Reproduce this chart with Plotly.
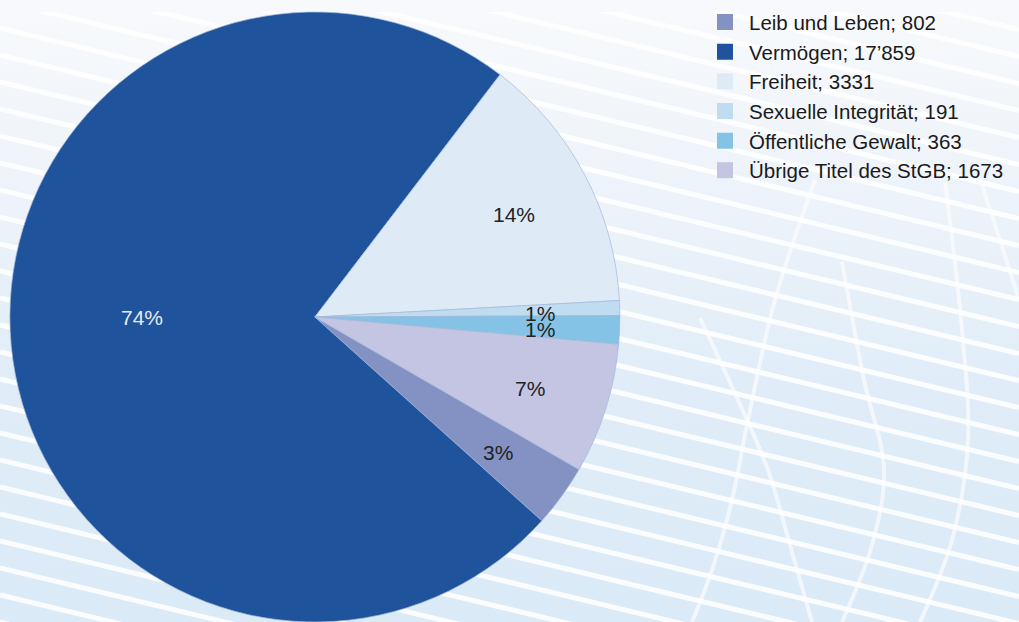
import numpy as np
import plotly.graph_objects as go

# Straftaten nach Titel des StGB
categories = [
    "Leib und Leben",
    "Vermögen",
    "Freiheit",
    "Sexuelle Integrität",
    "Öffentliche Gewalt",
    "Übrige Titel des StGB",
]
counts = [802, 17859, 3331, 191, 363, 1673]
slice_colors = ["#8491c3", "#1f539c", "#deebf7", "#bfdcf0", "#84c2e6", "#c3c5e2"]

W, H = 1019, 622
TOP = 12
PIE_X = (0.0, 0.618)
ROTATION = 120
FONT = "Liberation Sans, Arial, Helvetica, sans-serif"


def swiss(n):
    """Swiss thousands separator, only for five-digit numbers and up."""
    return f"{n:,}".replace(",", "\u2019") if n >= 10000 else str(n)


def is_dark(hex_color):
    r, g, b = (int(hex_color[i:i + 2], 16) for i in (1, 3, 5))
    return 0.299 * r + 0.587 * g + 0.114 * b < 128


fig = go.Figure()
plot_h = H - TOP

# soft vertical background gradient
fig.add_trace(go.Scatter(
    x=[0, W, W, 0, 0], y=[0, 0, plot_h, plot_h, 0],
    mode="lines", line=dict(width=0), fill="toself",
    fillgradient=dict(type="vertical", colorscale=[
        [0.0, "#dbeaf7"], [0.4, "#e0edf8"], [0.7, "#edf3fa"], [1.0, "#f7f9fc"],
    ]),
    hoverinfo="skip", showlegend=False,
))

# diagonal white stripes of the backdrop
SLOPE, GAP = 0.24, 27
sx, sy = [], []
for b in np.arange(0, plot_h + SLOPE * W + GAP, GAP):
    sx += [0, W, None]
    sy += [b, b - SLOPE * W, None]
fig.add_trace(go.Scatter(
    x=sx, y=sy, mode="lines",
    line=dict(color="rgba(255,255,255,0.85)", width=5),
    hoverinfo="skip", showlegend=False,
))

# faint curved net lines in the lower right of the backdrop (pixel coords from top)
net_curves = [
    [(815, 180), (775, 300), (748, 420), (732, 500), (712, 570), (692, 622)],
    [(700, 318), (738, 400), (768, 470), (790, 545), (812, 622)],
    [(842, 262), (864, 380), (884, 470), (872, 545), (842, 622)],
    [(945, 182), (962, 330), (968, 440), (952, 540), (920, 622)],
    [(982, 185), (1000, 240), (1019, 300)],
]
nx, ny = [], []
for curve in net_curves:
    nx += [p[0] for p in curve] + [None]
    ny += [H - p[1] for p in curve] + [None]
fig.add_trace(go.Scatter(
    x=nx, y=ny, mode="lines",
    line=dict(color="rgba(255,255,255,0.6)", width=4, shape="spline"),
    hoverinfo="skip", showlegend=False,
))

fig.add_trace(go.Pie(
    labels=categories,
    values=counts,
    sort=False,
    direction="clockwise",
    rotation=ROTATION,
    marker=dict(colors=slice_colors, line=dict(color="#a3b8da", width=0.7)),
    textinfo="none",
    domain=dict(x=list(PIE_X), y=[0, 1]),
    showlegend=False,
    hovertemplate="%{label}: %{value}<extra></extra>",
))

# legend entries
for name, val, col in zip(categories, counts, slice_colors):
    fig.add_trace(go.Scatter(
        x=[None], y=[None], mode="markers",
        marker=dict(symbol="square", size=16, color=col),
        name=f"{name}; {swiss(val)}",
    ))

# percentage labels placed along each slice's mid angle
total = sum(counts)
frac = np.array(counts) / total
start = np.concatenate([[0.0], np.cumsum(frac)[:-1]])
mid = np.deg2rad(ROTATION + 360 * (start + frac / 2))
cx = (PIE_X[0] + PIE_X[1]) / 2 * W
cy = plot_h / 2
R = plot_h / 2
for f, a, col in zip(frac, mid, slice_colors):
    if f > 0.5:
        # the dominant slice carries its label level with the centre
        lx, ly = cx + 0.57 * R * np.sin(a), cy
    else:
        lx, ly = cx + 0.74 * R * np.sin(a), cy + 0.74 * R * np.cos(a) - 3
    fig.add_annotation(
        x=lx, y=ly, xref="x", yref="y",
        text=f"{round(f * 100)}%", showarrow=False,
        font=dict(family=FONT, size=21, color="#e3eaf4" if is_dark(col) else "#222222"),
    )

fig.update_layout(
    width=W, height=H,
    margin=dict(l=0, r=0, t=TOP, b=0),
    paper_bgcolor="#f7f9fc",
    plot_bgcolor="rgba(0,0,0,0)",
    xaxis=dict(range=[0, W], visible=False, fixedrange=True),
    yaxis=dict(range=[0, plot_h], visible=False, fixedrange=True),
    legend=dict(
        x=701 / W, y=1.016, xanchor="left", yanchor="top",
        font=dict(family=FONT, size=20.5, color="#1a1a1a"),
        bgcolor="rgba(0,0,0,0)", itemwidth=38, tracegroupgap=0,
    ),
    font=dict(family=FONT),
)

fig.write_html("out.html")
